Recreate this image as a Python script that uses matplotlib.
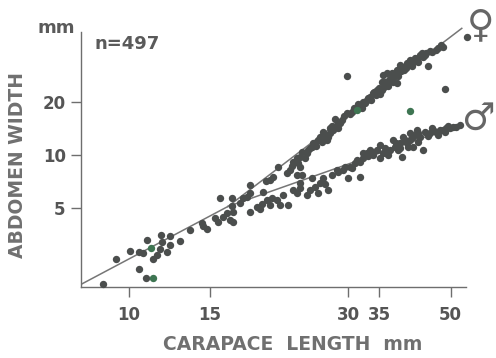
import matplotlib
matplotlib.use("Agg")
import matplotlib.pyplot as plt
from matplotlib.ticker import FixedLocator, FixedFormatter, NullLocator

# ---- data (mm) ----
carapace = [
    # juveniles / common part
    8.77, 9.37, 10.03, 10.53, 10.89, 10.54, 10.75, 10.93, 11.30, 11.52,
    11.71, 11.78, 11.68, 12.08, 12.28, 12.25, 12.88, 13.54, 14.39, 14.48,
    14.81, 15.38, 15.64, 15.77, 16.03, 16.31, 16.58, 16.72, 16.72, 16.86,
    16.83,
    # females
    17.43, 17.72, 18.03, 18.33, 18.33, 19.85, 19.59, 20.26, 20.59, 21.12,
    22.02, 22.39, 22.76, 23.34, 23.54, 23.54, 23.15, 23.74, 24.13, 24.34,
    24.74, 25.16, 25.37, 25.79, 26.23, 26.45, 26.90, 26.90, 27.12, 27.35,
    27.35, 27.81, 28.04, 28.28, 28.75, 29.74, 29.74, 23.15, 23.74,
    30.49, 31.78, 32.31, 32.87, 33.41, 33.97, 34.4, 34.6, 35.43, 35.84,
    35.43, 36.33, 36.75, 37.55, 37.55, 38.25, 35.71, 36.38, 37.25, 38.25,
    38.83, 39.47, 40.15, 40.82, 41.50, 42.2, 42.92, 43.6, 44.3, 45.12,
    46.6, 48.2, 44.7, 54.2, 48.6,
    25.48, 26.01, 26.68, 27.62, 28.46, 29.04, 29.33, 30.23, 30.85, 31.46,
    32.1, 32.58, 33.08, 33.58, 34.08, 34.96, 35.13, 36.03, 36.57, 36.93,
    37.87, 38.44, 39.02, 39.62, 40.02, 40.64, 41.25, 41.87, 42.5, 43.36,
    44.02, 45.57, 46.96, 47.68, 24.5, 25.0, 22.6,
    # males
    18.33, 18.95, 19.27, 19.92, 20.43, 20.26, 21.30, 21.65, 22.20, 22.76,
    23.15, 23.54, 24.34, 24.74, 25.37, 25.79, 26.01, 26.45, 27.12, 24.95,
    27.58, 28.28, 29.23, 29.98, 30.23, 31.00, 31.78, 31.78, 32.31, 32.31,
    32.87, 33.41, 33.97, 35.13, 35.13, 35.71, 36.93, 37.55, 37.87, 38.83,
    38.83, 39.16, 39.47, 40.15, 40.82, 40.82, 41.50, 41.85, 42.2, 42.92,
    43.6, 43.95, 45.12, 45.9, 46.6, 47.43, 48.2, 49.0, 49.87, 50.7,
    52.43, 36.33,
    28.46, 29.48, 30.54, 31.3, 33.08, 33.74, 34.6, 36.03, 36.57, 38.06,
    38.44, 39.82, 40.43, 41.25, 42.5, 42.5, 44.66, 45.57, 46.96, 48.6,
    49.34, 51.4, 19.45, 20.95, 23.54, 26.68,
]
abdomen = [
    1.86, 2.57, 2.87, 2.26, 2.03, 2.84, 2.79, 3.29, 2.57, 2.72,
    3.51, 3.24, 2.93, 2.84, 3.49, 3.12, 3.27, 3.79, 4.13, 3.97,
    3.80, 4.39, 4.18, 5.69, 4.48, 4.68, 4.29, 5.69, 5.18, 4.78,
    4.20,
    5.34, 5.69, 5.81, 6.77, 6.08, 7.13, 6.20, 7.22, 7.54, 8.59,
    7.88, 8.23, 9.17, 8.98, 9.78, 8.59, 9.58, 10.44, 9.58, 10.22,
    10.91, 11.64, 11.39, 12.15, 11.89, 13.54, 12.97, 12.15, 12.69, 14.15,
    13.26, 13.84, 15.91, 14.77, 15.11, 17.20, 27.95, 7.71, 7.71,
    17.57, 19.04, 20.0, 20.45, 21.35, 22.32, 21.83, 23.29, 23.29, 24.22,
    25.95, 25.18, 26.53, 25.95, 27.59, 25.41, 28.31, 28.95, 28.95, 30.22,
    32.25, 31.42, 32.97, 34.41, 33.53, 34.87, 36.73, 35.78, 37.55, 38.94,
    39.19, 40.76, 31.83, 46.60, 23.75,
    11.24, 12.64, 12.48, 14.58, 14.20, 15.77, 16.61, 17.04, 18.43, 19.42,
    18.43, 19.67, 20.99, 20.45, 22.70, 23.90, 22.11, 25.85, 24.54, 26.88,
    27.95, 27.95, 29.83, 30.22, 31.01, 32.67, 31.83, 35.32, 33.53, 37.70,
    36.73, 38.19, 40.23, 41.82, 10.67, 11.09, 8.67,
    4.78, 5.10, 4.95, 5.57, 5.69, 5.22, 5.22, 5.94, 5.22, 6.34,
    6.08, 6.92, 5.94, 6.34, 6.62, 6.08, 6.92, 7.39, 6.34, 7.39,
    7.71, 8.23, 8.23, 7.39, 8.59, 8.98, 9.17, 7.54, 9.58, 10.22,
    10.22, 10.67, 10.0, 9.58, 11.39, 10.22, 10.67, 12.15, 11.14, 11.64,
    10.91, 9.78, 12.69, 11.64, 12.15, 13.26, 11.14, 12.97, 13.84, 12.69,
    10.67, 13.54, 13.26, 13.84, 13.54, 13.84, 13.84, 14.15, 14.15, 14.45,
    14.77, 10.22,
    8.02, 8.56, 8.45, 9.37, 9.87, 10.40, 10.67, 10.95, 10.0, 11.69,
    10.67, 12.15, 11.09, 12.47, 13.31, 11.84, 12.80, 14.20, 12.97, 13.49,
    14.58, 14.39, 5.29, 5.57, 6.51, 6.86,
]
# points printed with a greenish tint
green_carapace = [11.25, 11.15, 31.26, 40.82]
green_abdomen = [2.01, 2.97, 17.96, 17.73]

# fitted allometric lines (endpoints, mm)
juvenile_x = [7.87, 16.41]
juvenile_y = [1.86, 5.12]
female_x = [16.41, 52.9]
female_y = [5.12, 51.96]
male_x = [16.41, 52.9]
male_y = [5.12, 14.96]

x_ticks = [10, 15, 30, 35, 50]
y_ticks = [5, 10, 20]

# ---- figure ----
fig = plt.figure(figsize=(4.96, 3.58), dpi=100)
fig.patch.set_facecolor("white")
ax = fig.add_axes([81 / 496, 71 / 358, 385 / 496, 262 / 358])
ax.set_xscale("log")
ax.set_yscale("log")
ax.set_xlim(7.865, 54.03)
ax.set_ylim(1.796, 54.27)

line_col = "#767676"
ax.plot(juvenile_x, juvenile_y, color=line_col, lw=1.1, zorder=2)
ax.plot(female_x, female_y, color=line_col, lw=1.1, zorder=2)
ax.plot(male_x, male_y, color=line_col, lw=1.1, zorder=2)

dot = "#4b4e4d"
ax.plot(carapace, abdomen, "o", ms=5.3, mfc=dot, mec="none",
        clip_on=False, zorder=3)
ax.plot(green_carapace, green_abdomen, "o", ms=5.3, mfc="#3e7552", mec="none",
        clip_on=False, zorder=3)

for s in ["top", "right"]:
    ax.spines[s].set_visible(False)
for s in ["left", "bottom"]:
    ax.spines[s].set_color("#6e6e6e")
    ax.spines[s].set_linewidth(1.0)
ax.spines["left"].set_bounds(1.796, 49.55)

ax.xaxis.set_major_locator(FixedLocator(x_ticks))
ax.xaxis.set_major_formatter(FixedFormatter([str(v) for v in x_ticks]))
ax.xaxis.set_minor_locator(NullLocator())
ax.yaxis.set_major_locator(FixedLocator(y_ticks))
ax.yaxis.set_major_formatter(FixedFormatter([str(v) for v in y_ticks]))
ax.yaxis.set_minor_locator(NullLocator())

ax.tick_params(axis="x", direction="out", length=7, width=1.0, color="#6e6e6e",
               pad=7, labelsize=12, labelcolor="#555555")
ax.tick_params(axis="y", direction="out", length=7, width=1.0, color="#6e6e6e",
               pad=4, labelsize=12, labelcolor="#555555")
for lab in ax.get_xticklabels() + ax.get_yticklabels():
    lab.set_fontweight("bold")

fig.text(17.5 / 496, 1 - 165 / 358, "ABDOMEN WIDTH", rotation=90,
         ha="center", va="center", fontsize=13.5, fontweight="bold",
         color="#707070")
fig.text(293 / 496, 1 - 345 / 358, "CARAPACE  LENGTH  mm",
         ha="center", va="center", fontsize=13.5, fontweight="bold",
         color="#707070")
fig.text(56 / 496, 1 - 28 / 358, "mm", ha="center", va="center",
         fontsize=13, fontweight="bold", color="#5a5a5a")
fig.text(95 / 496, 1 - 44 / 358, "n=497", ha="left", va="center",
         fontsize=13, fontweight="bold", color="#5a5a5a")
fig.text(481 / 496, 1 - 26 / 358, "\u2640", ha="center", va="center",
         fontsize=27, color="#666666")
fig.text(495 / 496, 1 - 120 / 358, "\u2642", ha="right", va="center",
         fontsize=27, color="#666666")

fig.savefig("out.png", dpi=100, facecolor="white")
